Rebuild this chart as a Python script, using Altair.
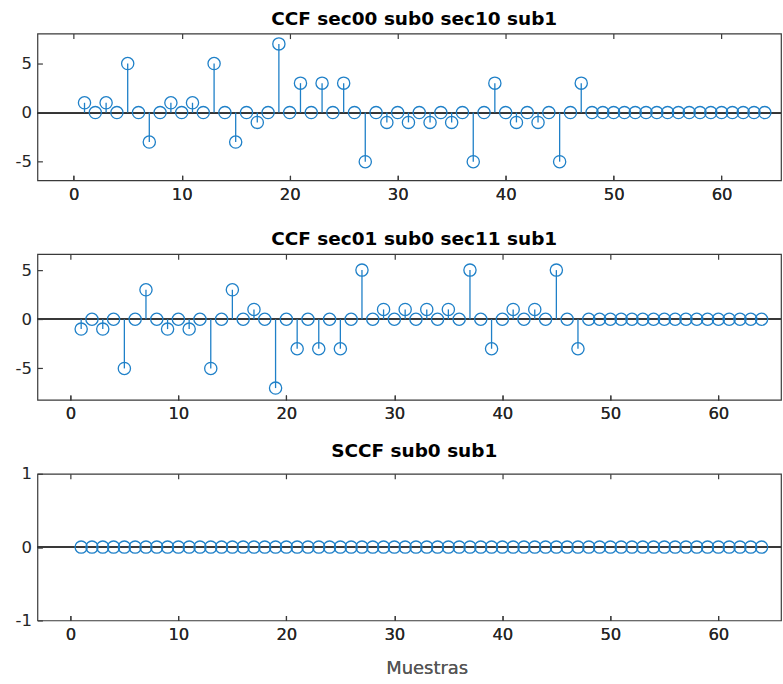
import altair as alt
import pandas as pd

samples = list(range(1, 65))

ccf_sec00_sec10 = [1, 0, 1, 0, 5, 0, -3, 0, 1, 0, 1, 0, 5, 0, -3, 0,
                   -1, 0, 7, 0, 3, 0, 3, 0, 3, 0, -5, 0, -1, 0, -1, 0,
                   -1, 0, -1, 0, -5, 0, 3, 0, -1, 0, -1, 0, -5, 0, 3, 0,
                   0, 0, 0, 0, 0, 0, 0, 0, 0, 0, 0, 0, 0, 0, 0, 0]

ccf_sec01_sec11 = [-1, 0, -1, 0, -5, 0, 3, 0, -1, 0, -1, 0, -5, 0, 3, 0,
                   1, 0, -7, 0, -3, 0, -3, 0, -3, 0, 5, 0, 1, 0, 1, 0,
                   1, 0, 1, 0, 5, 0, -3, 0, 1, 0, 1, 0, 5, 0, -3, 0,
                   0, 0, 0, 0, 0, 0, 0, 0, 0, 0, 0, 0, 0, 0, 0, 0]

sccf_sub0_sub1 = [0, 0, 0, 0, 0, 0, 0, 0, 0, 0, 0, 0, 0, 0, 0, 0,
                  0, 0, 0, 0, 0, 0, 0, 0, 0, 0, 0, 0, 0, 0, 0, 0,
                  0, 0, 0, 0, 0, 0, 0, 0, 0, 0, 0, 0, 0, 0, 0, 0,
                  0, 0, 0, 0, 0, 0, 0, 0, 0, 0, 0, 0, 0, 0, 0, 0]

titles = ["CCF sec00 sub0 sec10 sub1", "CCF sec01 sub0 sec11 sub1", "SCCF sub0 sub1"]
x_ticks = [0, 10, 20, 30, 40, 50, 60]
y_ticks_ccf = [-5, 0, 5]
y_ticks_sccf = [-1, 0, 1]
x_label = "Muestras"

BLUE = "#1f80c8"
AX = "#3a3a3a"
TXT = "#262626"
FONT = "DejaVu Sans"
W = 745


def panel(values, title, xdom, ydom, yticks, height, show_xtitle):
    df = pd.DataFrame({"x": samples, "v": values})
    xscale = alt.Scale(domain=xdom, nice=False, zero=False)
    yscale = alt.Scale(domain=ydom, nice=False, zero=False)

    bottom_kw = dict(orient="bottom", values=x_ticks, domain=False, grid=False,
                     tickSize=5, offset=-5, tickColor=AX, tickWidth=1.2,
                     labelPadding=6, labelFont=FONT, labelFontSize=16.5,
                     labelColor=TXT)
    if show_xtitle:
        bottom_kw.update(titleFont=FONT, titleFontSize=18, titleFontWeight="normal",
                         titleColor="#555555", titleX=390, titleY=58,
                         titleBaseline="alphabetic", titleAlign="center")
    bottom_axis = alt.Axis(**bottom_kw)
    top_axis = alt.Axis(orient="top", values=x_ticks, domain=False, grid=False,
                        tickSize=5, offset=-5, tickColor=AX, tickWidth=1.2,
                        labels=False, minExtent=0, maxExtent=0)
    left_axis = alt.Axis(orient="left", values=yticks, domain=False, grid=False,
                         tickSize=5, offset=-5, tickColor=AX, tickWidth=1.2,
                         labelPadding=6, labelFont=FONT, labelFontSize=16.5,
                         labelColor=TXT, labelExpr="'' + datum.value",
                         minExtent=24, maxExtent=24)

    xtitle = x_label if show_xtitle else None
    base = alt.Chart(df)

    zero_line = base.mark_rule(color=AX, strokeWidth=1).encode(
        y=alt.datum(0)
    )
    stems = base.mark_rule(color=BLUE, strokeWidth=1.3).encode(
        x=alt.X("x:Q", scale=xscale, axis=bottom_axis, title=xtitle),
        y=alt.Y("v:Q", scale=yscale, axis=left_axis, title=None),
        y2=alt.datum(0),
    )
    markers = base.mark_point(shape="circle", filled=False, color=BLUE,
                              size=150, strokeWidth=1.3, opacity=1).encode(
        x=alt.X("x:Q", scale=xscale, axis=bottom_axis, title=xtitle),
        y=alt.Y("v:Q", scale=yscale, axis=left_axis, title=None),
    )
    top_ticks = base.mark_point(opacity=0).encode(
        x=alt.X("x:Q", scale=xscale, axis=top_axis, title=None),
        y=alt.Y("v:Q", scale=yscale, axis=left_axis, title=None),
    )
    return alt.layer(zero_line, stems, markers, top_ticks).resolve_axis(
        x="independent"
    ).properties(
        width=W, height=height,
        title=alt.TitleParams(text=title, font=FONT, fontSize=18.5,
                              fontWeight="bold", color="black", anchor="middle",
                              baseline="alphabetic", offset=-10, dx=5),
    )


p1 = panel(ccf_sec00_sec10, titles[0], [-3.36, 65.5], [-6.9, 8.05], y_ticks_ccf, 147, False)
p2 = panel(ccf_sec01_sec11, titles[1], [-3.05, 65.8], [-8.2, 6.62], y_ticks_ccf, 146, False)
p3 = panel(sccf_sub0_sub1, titles[2], [-3.05, 65.8], [-1, 1], y_ticks_sccf, 147, True)

chart = alt.vconcat(p1, p2, p3, spacing=74, bounds="flush").properties(
    padding={"left": 13.5, "top": 8, "right": 0, "bottom": 4}
).configure_view(stroke=AX, strokeWidth=1.2)

chart.save("out.html", embed_options={"renderer": "svg", "actions": False})
